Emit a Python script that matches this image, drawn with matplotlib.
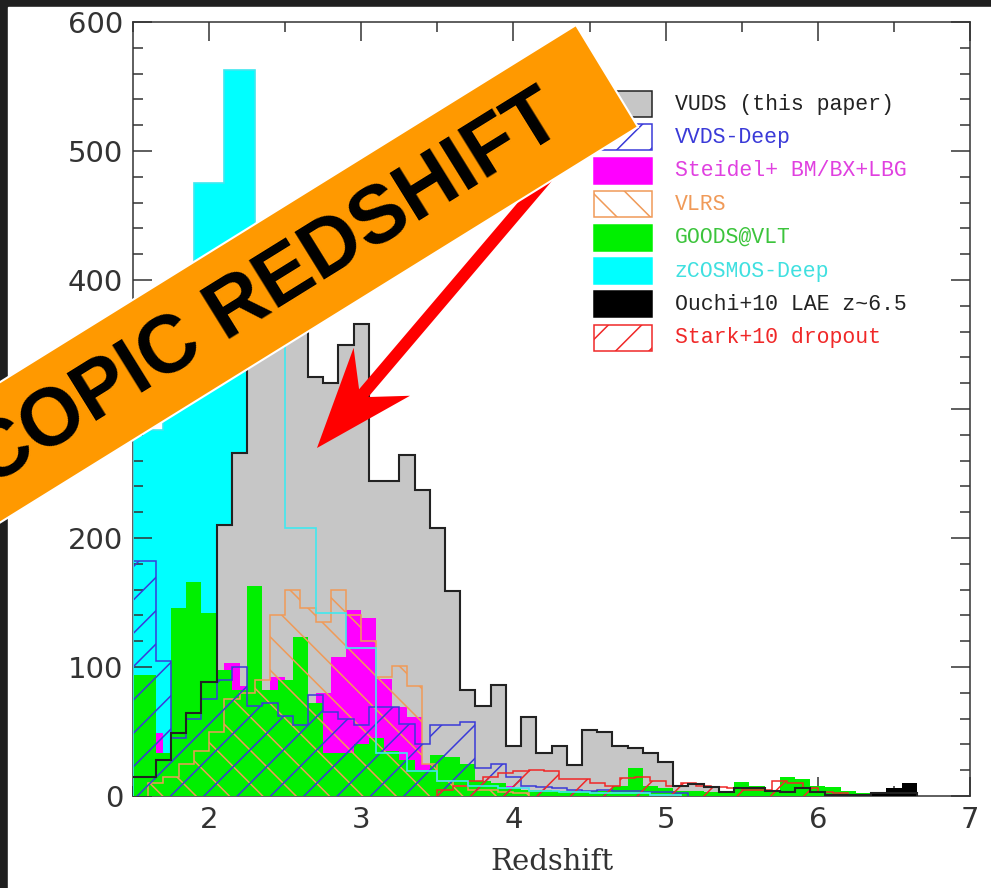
import numpy as np
import matplotlib
matplotlib.use("Agg")
import matplotlib.pyplot as plt
from matplotlib.patches import Rectangle, Polygon

# ---- data: counts per redshift bin (first bin edge, bin width, counts) ----
vuds_start, vuds_width = 1.45, 0.1
vuds = [15, 15, 28, 49, 64, 88,
        210, 266, 345, 385, 400, 390, 325, 320, 350, 366,
        244, 244, 264, 237, 208, 159, 82, 70, 86, 39,
        61, 33, 39, 24, 51, 50, 39, 37, 33, 26,
        8, 9, 7, 3, 6, 6, 4, 3, 6, 3,
        1, 1, 1, 2, 2, 2]

zcosmos_start, zcosmos_width = 1.5, 0.2
zcosmos = [284, 330, 475, 563, 390, 208, 142, 115, 33, 19, 12, 8, 6, 4, 3, 2, 2, 1]

goods_start, goods_width = 1.45, 0.1
goods = [94, 94, 33, 146, 166, 142, 98, 82, 163, 82,
         90, 123, 72, 33, 33, 40, 45, 35, 28, 20,
         32, 30, 25, 12, 10, 6, 5, 5, 4, 4,
         4, 4, 8, 22, 8, 6, 4, 4, 3, 3,
         11, 8, 4, 15, 13, 8, 7, 4, 2, 1]

steidel_start, steidel_width = 1.6, 0.1
steidel = [49, 20, 30, 40, 60, 103, 85, 80, 92, 75,
           70, 80, 108, 144, 138, 91, 69, 61, 25, 15,
           10, 8, 6, 8, 5, 3, 2]

vvds_start, vvds_width = 1.45, 0.1
vvds = [182, 182, 105, 45, 60, 75, 90, 100, 70, 72,
        62, 55, 78, 65, 60, 55, 69, 69, 56, 40,
        55, 55, 57, 22, 25, 15, 8, 7, 6, 5,
        4, 5, 4, 4, 3, 3, 2]

vlrs_start, vlrs_width = 1.6, 0.1
vlrs = [10, 15, 25, 35, 50, 75, 80, 90, 140, 160,
        146, 135, 160, 140, 120, 92, 101, 85, 25, 12,
        8, 5, 5, 3, 2]

stark_start, stark_width = 3.5, 0.1
stark = [5, 8, 12, 15, 18, 19, 20, 19, 13, 13,
         10, 8, 14, 15, 12, 8, 10, 8, 7, 6,
         5, 5, 12, 10, 6, 3, 2]

ouchi_start, ouchi_width = 6.35, 0.1
ouchi = [2, 6, 10]

legend_labels = ["VUDS (this paper)", "VVDS-Deep", "Steidel+ BM/BX+LBG", "VLRS",
                 "GOODS@VLT", "zCOSMOS-Deep", "Ouchi+10 LAE z~6.5", "Stark+10 dropout"]


def edges(start, width, counts):
    return start + width * np.arange(len(counts) + 1)


W, H = 991, 888
plt.rcParams["hatch.linewidth"] = 1.1
fig = plt.figure(figsize=(W / 100, H / 100), dpi=100, facecolor="#1f1f1f")
fig.add_artist(Rectangle((8 / W, 0), 1, (H - 7) / H, transform=fig.transFigure,
                         color="white", zorder=-1))

ax = fig.add_axes([133 / W, (H - 796) / H, 837 / W, 774 / H])

c_blue = "#3a3ad8"
c_orange = "#f09a58"
c_red = "#f02828"

# filled histograms
ax.stairs(zcosmos, edges(zcosmos_start, zcosmos_width, zcosmos), fill=True, color="#00ffff", zorder=1)
ax.stairs(vuds, edges(vuds_start, vuds_width, vuds), fill=True, color="#c6c6c6", zorder=2)
ax.stairs(steidel, edges(steidel_start, steidel_width, steidel), fill=True, color="#ff00ff", zorder=3)
ax.stairs(goods, edges(goods_start, goods_width, goods), fill=True, color="#00f000", zorder=4)
ax.stairs(ouchi, edges(ouchi_start, ouchi_width, ouchi), fill=True, color="black", zorder=5)

# hatched histograms
ax.stairs(vlrs, edges(vlrs_start, vlrs_width, vlrs), fill=True, facecolor="none",
          edgecolor=c_orange, hatch="\\", lw=1.1, zorder=6)
ax.stairs(vvds, edges(vvds_start, vvds_width, vvds), fill=True, facecolor="none",
          edgecolor=c_blue, hatch="/", lw=1.1, zorder=7)
ax.stairs(stark, edges(stark_start, stark_width, stark), fill=True, facecolor="none",
          edgecolor=c_red, hatch="/", lw=1.1, zorder=8)

# outlines on top
ax.stairs(zcosmos, edges(zcosmos_start, zcosmos_width, zcosmos), color="#40e8f0", lw=1.2, zorder=9)
ax.stairs(vuds, edges(vuds_start, vuds_width, vuds), color="#222222", lw=1.5, zorder=10)

ax.set_xlim(1.5, 7)
ax.set_ylim(0, 600)
ax.set_xticks([2, 3, 4, 5, 6, 7])
ax.set_xticks(np.arange(1.5, 7.01, 0.5), minor=True)
ax.set_yticks(np.arange(0, 601, 100))
ax.set_yticks(np.arange(0, 601, 20), minor=True)
ax.tick_params(which="both", direction="in", top=True, right=True, width=1.1, color="#333333")
ax.tick_params(which="major", length=14, labelsize=21, pad=7, labelcolor="#333333")
ax.tick_params(which="minor", length=7)
for s in ax.spines.values():
    s.set_linewidth(1.1)
    s.set_color("#333333")
ax.set_xlabel("Redshift", fontsize=21, family="DejaVu Serif", color="#333333", labelpad=10)

# legend drawn by hand
leg_styles = [
    dict(facecolor="#c6c6c6", edgecolor="#222222"),
    dict(facecolor="none", edgecolor=c_blue, hatch="/"),
    dict(facecolor="#ff00ff", edgecolor="#ff00ff"),
    dict(facecolor="none", edgecolor=c_orange, hatch="\\"),
    dict(facecolor="#00f000", edgecolor="#00f000"),
    dict(facecolor="#00ffff", edgecolor="#00ffff"),
    dict(facecolor="black", edgecolor="black"),
    dict(facecolor="none", edgecolor=c_red, hatch="/"),
]
leg_colors = ["#222222", c_blue, "#e040e0", c_orange, "#3cc43c", "#40e0e0", "#222222", c_red]
x0, w = (594 - 133) / 837, 58 / 837
for i, (lab, st, tc) in enumerate(zip(legend_labels, leg_styles, leg_colors)):
    yc = 104 + 33.4 * i
    yb = (796 - yc - 13) / 774
    ax.add_patch(Rectangle((x0, yb), w, 26 / 774, transform=ax.transAxes, lw=1.1, zorder=11, **st))
    ax.text((675 - 133) / 837, (796 - yc) / 774, lab, transform=ax.transAxes, color=tc,
            fontsize=15.5, family="Liberation Mono", va="center", ha="left", zorder=11)

# overlay in pixel coordinates: arrow and banner
ov = fig.add_axes([0, 0, 1, 1], zorder=20)
ov.set_xlim(0, W)
ov.set_ylim(H, 0)
ov.axis("off")

tip = np.array([317.0, 448.0])
d = np.array([0.648, -0.762])
n = np.array([0.762, 0.648])
arrow = [tip, tip + 100 * d + 37 * n, tip + 72 * d + 6 * n, tip + 380 * d + 6 * n,
         tip + 380 * d - 6 * n, tip + 72 * d - 6 * n, tip + 100 * d - 37 * n]
ov.add_patch(Polygon(arrow, closed=True, color="#ff0000", lw=0, zorder=1))

ang = 31.8
u = np.array([-np.cos(np.radians(ang)), np.sin(np.radians(ang))])
v = np.array([np.sin(np.radians(ang)), np.cos(np.radians(ang))])
A = np.array([576.0, 25.0])
B = np.array([638.0, 127.0])
ov.add_patch(Polygon([A, B, B + 900 * u, A + 900 * u], closed=True,
                     facecolor="#ff9900", edgecolor="white", lw=1.5, zorder=2))
P = (A + B) / 2 + 62 * u + 3 * v
ov.text(P[0], P[1], "COPIC REDSHIFT", rotation=ang, rotation_mode="anchor",
        ha="right", va="center", fontsize=58, fontweight="bold", family="Liberation Sans",
        color="black", zorder=3)

fig.savefig("out.png", dpi=100, facecolor=fig.get_facecolor())
